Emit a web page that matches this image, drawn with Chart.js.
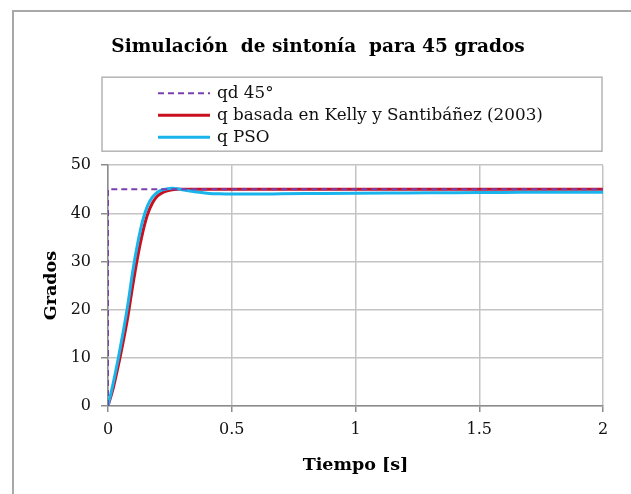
<!DOCTYPE html>
<html>
<head>
<meta charset="utf-8">
<script src="https://cdn.jsdelivr.net/npm/chart.js@4.4.1/dist/chart.umd.min.js"></script>
<style>
  body { margin: 0; background: #fff; }
  #wrap { position: relative; width: 631px; height: 494px; overflow: hidden; }
  #frame { position: absolute; left: 12px; top: 10px; width: 700px; height: 600px; border: 2px solid #a8a8a8; }
  #chart { position: absolute; left: 0; top: 0; }
</style>
</head>
<body>
<div id="wrap">
  <div id="frame"></div>
  <canvas id="chart" width="631" height="494"></canvas>
</div>
<script>
// Datos
const tiempo = [0, 0.02, 0.04, 0.06, 0.08, 0.10, 0.12, 0.14, 0.16, 0.18, 0.20, 0.22, 0.24, 0.26, 0.28, 0.30,
  0.35, 0.40, 0.45, 0.50, 0.60, 0.70, 0.80, 1.00, 1.20, 1.40, 1.60, 1.80, 2.00];
const qKelly = [0, 3.5, 8, 13, 18.5, 25, 31, 36, 39.8, 42.2, 43.6, 44.3, 44.7, 44.9, 45, 45,
  45, 45, 45, 45, 45, 45, 45, 45, 45, 45, 45, 45, 45];
const qPSO = [0, 4.5, 9.5, 15, 21, 28, 33.8, 38.5, 41.6, 43.4, 44.4, 44.9, 45.1, 45.2, 45.1, 44.9,
  44.5, 44.2, 44.05, 44.0, 44.0, 44.05, 44.1, 44.2, 44.25, 44.3, 44.35, 44.4, 44.4];
const refTiempo = [0, 0, 2];
const qdRef = [0, 45, 45];

const xTicks = [0, 0.5, 1, 1.5, 2];
const yTicks = [0, 10, 20, 30, 40, 50];

const FONT = "'DejaVu Serif', serif";

function toPoints(xs, ys) {
  return xs.map((x, i) => ({ x: x, y: ys[i] }));
}

// Legend with a box, drawn above the plot area
const boxLegend = {
  id: 'boxLegend',
  afterDraw(chart) {
    const ctx = chart.ctx;
    const area = chart.chartArea;
    const left = area.left - 6, right = area.right - 1;
    const top = area.top - 88, bottom = area.top - 14;
    ctx.save();
    ctx.strokeStyle = '#b4b4b4';
    ctx.lineWidth = 1.5;
    ctx.strokeRect(left, top, right - left, bottom - top);

    const rowY = [top + 16, top + 38, top + 60];
    ctx.font = '16.8px ' + FONT;
    ctx.textBaseline = 'middle';
    ctx.fillStyle = '#111';
    chart.data.datasets.forEach((ds, i) => {
      const y = rowY[i];
      ctx.beginPath();
      ctx.strokeStyle = ds.borderColor;
      ctx.lineWidth = ds.borderWidth;
      ctx.setLineDash(ds.borderDash || []);
      ctx.moveTo(left + 56, y);
      ctx.lineTo(left + 108, y);
      ctx.stroke();
      ctx.setLineDash([]);
      ctx.fillText(ds.label, left + 115, y);
    });
    ctx.restore();
  }
};

new Chart(document.getElementById('chart'), {
  type: 'line',
  data: {
    datasets: [
      {
        label: 'qd 45°',
        data: toPoints(refTiempo, qdRef),
        borderColor: '#7a3fb0',
        borderWidth: 2,
        borderDash: [6, 4],
        tension: 0,
        pointRadius: 0,
        order: 0,
      },
      {
        label: 'q basada en Kelly y Santibáñez (2003)',
        data: toPoints(tiempo, qKelly),
        borderColor: '#c8101e',
        borderWidth: 3,
        cubicInterpolationMode: 'monotone',
        pointRadius: 0,
        order: 2,
      },
      {
        label: 'q PSO',
        data: toPoints(tiempo, qPSO),
        borderColor: '#1ab4ec',
        borderWidth: 3,
        cubicInterpolationMode: 'monotone',
        pointRadius: 0,
        order: 1,
      },
    ],
  },
  options: {
    responsive: false,
    animation: false,
    layout: { padding: { left: 33, right: 28, top: 0, bottom: 0 } },
    plugins: {
      legend: { display: false },
      tooltip: { enabled: false },
      title: {
        display: true,
        text: 'Simulación  de sintonía  para 45 grados',
        color: '#000',
        font: { family: FONT, size: 18.5, weight: 'bold' },
        padding: { top: 36, bottom: 107 },
      },
    },
    scales: {
      x: {
        type: 'linear',
        min: 0,
        max: 2,
        afterBuildTicks: (scale) => { scale.ticks = xTicks.map(v => ({ value: v })); },
        afterFit: (scale) => { scale.height = 88; },
        ticks: {
          color: '#111',
          font: { family: FONT, size: 16 },
          padding: 8,
          maxRotation: 0,
          callback: (v) => String(v),
        },
        grid: { color: '#c4c4c4', lineWidth: 1.5, tickLength: 6, tickColor: '#8c8c8c' },
        border: { color: '#8c8c8c', width: 1.5 },
        title: {
          display: true,
          text: 'Tiempo [s]',
          color: '#000',
          font: { family: FONT, size: 17.5, weight: 'bold' },
          padding: { top: 0, bottom: 18 },
        },
      },
      y: {
        min: 0,
        max: 50,
        afterBuildTicks: (scale) => { scale.ticks = yTicks.map(v => ({ value: v })); },
        afterFit: (scale) => { scale.width = 75; },
        ticks: {
          color: '#111',
          font: { family: FONT, size: 16 },
          padding: 10,
          callback: (v) => String(v),
        },
        grid: { color: '#c4c4c4', lineWidth: 1.5, tickLength: 7, tickColor: '#8c8c8c' },
        border: { color: '#8c8c8c', width: 1.5 },
        title: {
          display: true,
          text: 'Grados',
          color: '#000',
          font: { family: FONT, size: 17.5, weight: 'bold' },
          padding: { top: 8, bottom: 0 },
        },
      },
    },
  },
  plugins: [boxLegend],
});
</script>
</body>
</html>
